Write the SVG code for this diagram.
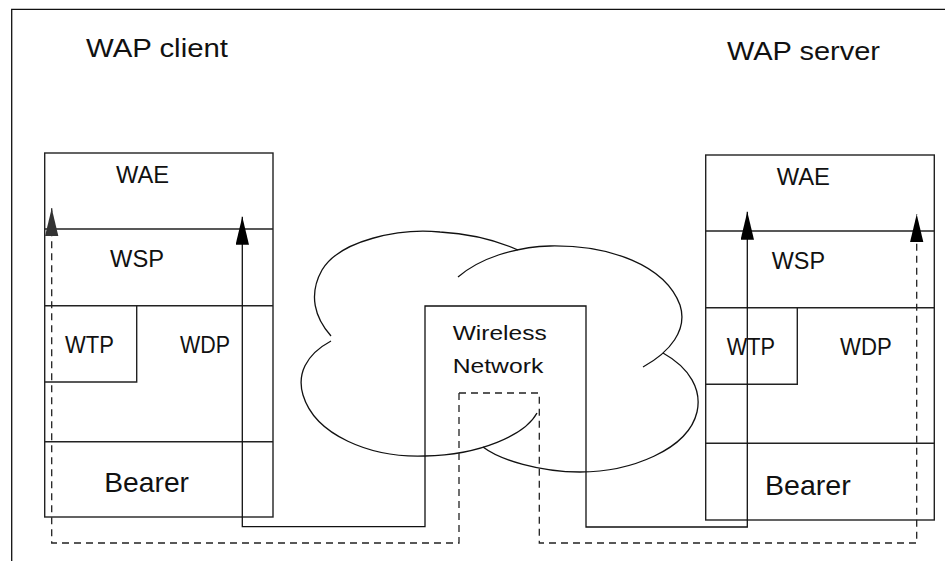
<svg xmlns="http://www.w3.org/2000/svg" width="945" height="561" viewBox="0 0 945 561">
<style>
.ln{fill:none;stroke:#111;stroke-width:1.3}
.bx{fill:none;stroke:#222;stroke-width:1.4}
.t{font-family:"Liberation Sans",Arial,sans-serif;fill:#111}
.h{font-size:26px}
.s{font-size:23px}
.b{font-size:28px}
.w{font-size:21px}
.dash{fill:none;stroke:#222;stroke-width:1.3;stroke-dasharray:7 5}
.sol{fill:none;stroke:#111;stroke-width:1.3}
</style>
<defs>
<marker id="ah" markerUnits="userSpaceOnUse" markerWidth="28" markerHeight="14" refX="28" refY="6.7" orient="auto">
<path d="M0,0 L28,6.7 L0,13.4 Z" fill="#000"/>
</marker>
<marker id="ahg" markerUnits="userSpaceOnUse" markerWidth="28" markerHeight="14" refX="28" refY="6.7" orient="auto">
<path d="M0,0 L28,6.7 L0,13.4 Z" fill="#333"/>
</marker>
</defs>
<rect width="945" height="561" fill="#fff"/>
<g id="frame">
<path class="ln" d="M11.7,561 V9.3 H945"/>
</g>
<g id="title-client">
<text class="t h" x="86" y="57" textLength="142" lengthAdjust="spacingAndGlyphs">WAP client</text>
</g>
<g id="title-server">
<text class="t h" x="727" y="60" textLength="153" lengthAdjust="spacingAndGlyphs">WAP server</text>
</g>
<g id="client-stack">
<rect class="bx" x="44.7" y="153" width="228.3" height="364"/>
<path class="bx" d="M44.7,229 H273 M44.7,305.7 H273 M136.7,305.7 V382 H44.7 M44.7,441.7 H273"/>
<text class="t s" x="116" y="183.3" textLength="53" lengthAdjust="spacingAndGlyphs">WAE</text>
<text class="t s" x="110" y="266.7" textLength="54" lengthAdjust="spacingAndGlyphs">WSP</text>
<text class="t s" x="65" y="352.7" textLength="49" lengthAdjust="spacingAndGlyphs">WTP</text>
<text class="t s" x="180" y="352.7" textLength="50" lengthAdjust="spacingAndGlyphs">WDP</text>
<text class="t b" x="104.3" y="491.7" textLength="84.7" lengthAdjust="spacingAndGlyphs">Bearer</text>
</g>
<g id="server-stack">
<rect class="bx" x="705.7" y="155" width="228.6" height="365"/>
<path class="bx" d="M705.7,231 H934.3 M705.7,307.7 H934.3 M797.3,307.7 V384.3 H705.7 M705.7,443.3 H934.3"/>
<text class="t s" x="776.7" y="185" textLength="53.3" lengthAdjust="spacingAndGlyphs">WAE</text>
<text class="t s" x="771.7" y="269.3" textLength="53.3" lengthAdjust="spacingAndGlyphs">WSP</text>
<text class="t s" x="726.7" y="355" textLength="48.3" lengthAdjust="spacingAndGlyphs">WTP</text>
<text class="t s" x="840" y="355" textLength="51.7" lengthAdjust="spacingAndGlyphs">WDP</text>
<text class="t b" x="765" y="495" textLength="85.7" lengthAdjust="spacingAndGlyphs">Bearer</text>
</g>
<g id="cloud">
<path class="ln" d="M331,336 C315,318 308,295 322,270 C340,240 400,228 440,232 C475,234 500,242 518,250"/>
<path class="ln" d="M331,341 C305,355 297,375 303,395 C315,435 370,458 425,456 C480,455 525,435 537,413"/>
<path class="ln" d="M458,277 C480,258 515,247 550,246 C610,245 665,265 680,305 C688,330 670,352 643,367"/>
<path class="ln" d="M663,353 C690,368 702,390 697,412 C688,450 630,472 580,472 C540,472 500,460 483,447"/>
</g>
<g id="wireless-network">
<path class="ln" d="M425,446 V306 H586 V446"/>
<text class="t w" x="452.7" y="340" textLength="94" lengthAdjust="spacingAndGlyphs">Wireless</text>
<text class="t w" x="452.7" y="373.3" textLength="90.6" lengthAdjust="spacingAndGlyphs">Network</text>
</g>
<g id="connectors">
<path class="sol" d="M586,446 V527 H747.3 V211.7" marker-end="url(#ah)"/>
<path class="sol" d="M425,446 V526.7 H242.3 V216.7" marker-end="url(#ah)"/>
<path class="dash" d="M459,393 V543 H51.7 V208.3" marker-end="url(#ahg)"/>
<path class="dash" d="M459,393 H539.3 V543 H916.7 V214.3" marker-end="url(#ah)"/>
</g>
</svg>
